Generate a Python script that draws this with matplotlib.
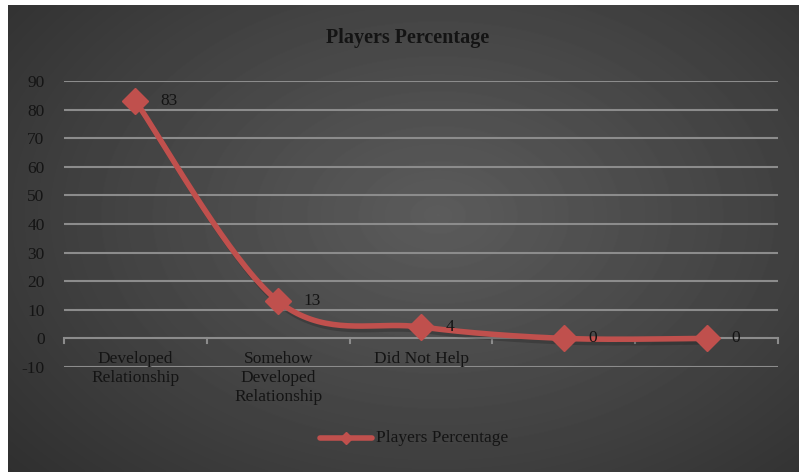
import numpy as np
import matplotlib
matplotlib.use("Agg")
import matplotlib.pyplot as plt
import matplotlib.patheffects as pe

categories = ["Developed\nRelationship", "Somehow\nDeveloped\nRelationship", "Did Not Help", "", ""]
values = [83, 13, 4, 0, 0]
series_name = "Players Percentage"
yticks = list(range(-10, 91, 10))

line_color = "#c0504d"
text_color = "#141414"
grid_color = "#8c8c8c"
font = "Liberation Serif"
fs = 12.5

W, H = 799, 472
fig = plt.figure(figsize=(W / 100, H / 100), dpi=100)
fig.patch.set_facecolor("white")

# dark radial gradient panel behind the chart
bg = fig.add_axes([8 / W, 0, (W - 8) / W, (H - 5) / H])
bg.set_axis_off()
gy, gx = np.mgrid[0:467, 0:791]
r = np.hypot((gx - 430) / 560, (gy - 210) / 380)
shade = np.clip(0.36 - 0.17 * r, 0.17, 0.40)
bg.imshow(shade, cmap="gray", vmin=0, vmax=1, aspect="auto", interpolation="bilinear")

# plot area in pixel coordinates
x0, x1 = 64, 778
ytop, ybot = 81, 367
ax = fig.add_axes([x0 / W, 1 - ybot / H, (x1 - x0) / W, (ybot - ytop) / H])
ax.set_facecolor("none")
n = len(values)
ax.set_xlim(-0.5, n - 0.5)
ax.set_ylim(-10, 90)

for v in yticks:
    ax.axhline(v, color=grid_color, lw=1.5, zorder=1)
for b in np.arange(n + 1) - 0.5:
    ax.plot([b, b], [0, -1.6], color=grid_color, lw=1.5, clip_on=False, zorder=1)

for s in ax.spines.values():
    s.set_visible(False)
ax.set_yticks(yticks)
ax.set_yticklabels([str(v) for v in yticks], fontsize=fs, color=text_color, family=font)
ax.tick_params(axis="y", length=0, pad=14)
ax.set_xticks([])
for i, c in enumerate(categories):
    if c:
        ax.text(i, -4.3, c, ha="center", va="top", fontsize=fs, color=text_color,
                family=font, linespacing=1.28)

# smoothed line through the points (Catmull-Rom style bezier)
xs = np.arange(n, dtype=float)
ys = np.array(values, dtype=float)
px = np.concatenate([[xs[0]], xs, [xs[-1]]])
py = np.concatenate([[ys[0]], ys, [ys[-1]]])
cx, cy = [], []
t = np.linspace(0, 1, 40)
for i in range(n - 1):
    p0 = np.array([xs[i], ys[i]])
    p3 = np.array([xs[i + 1], ys[i + 1]])
    p1 = p0 + (np.array([px[i + 2], py[i + 2]]) - np.array([px[i], py[i]])) / 6
    p2 = p3 - (np.array([px[i + 3], py[i + 3]]) - np.array([px[i + 1], py[i + 1]])) / 6
    b = ((1 - t) ** 3)[:, None] * p0 + (3 * (1 - t) ** 2 * t)[:, None] * p1 \
        + (3 * (1 - t) * t ** 2)[:, None] * p2 + (t ** 3)[:, None] * p3
    cx.extend(b[:, 0])
    cy.extend(b[:, 1])

shadow = [pe.SimpleLineShadow(offset=(1.5, -2.5), shadow_color="black", alpha=0.18), pe.Normal()]
ax.plot(cx, cy, color=line_color, lw=4, solid_capstyle="round", zorder=3, path_effects=shadow)
ax.plot(xs, ys, ls="none", marker="D", ms=13, color=line_color, zorder=4)

for x, v in zip(xs, ys):
    ax.annotate(f"{v:g}", (x, v), xytext=(18, 0), textcoords="offset points",
                ha="left", va="center", fontsize=fs, color=text_color, family=font)

fig.text(408 / W, 1 - 38 / H, "Players Percentage", ha="center", va="center",
         fontsize=14.5, fontweight="bold", color=text_color, family=font)

# legend
lg = fig.add_axes([0, 0, 1, 1])
lg.set_axis_off()
lg.set_xlim(0, W)
lg.set_ylim(H, 0)
lg.plot([320, 372], [438, 438], color=line_color, lw=4, solid_capstyle="round")
lg.plot([346], [438], marker="D", ms=6, color=line_color)
lg.text(376, 438, series_name, ha="left", va="center", fontsize=fs,
        color=text_color, family=font)

fig.savefig("out.png", dpi=100)
